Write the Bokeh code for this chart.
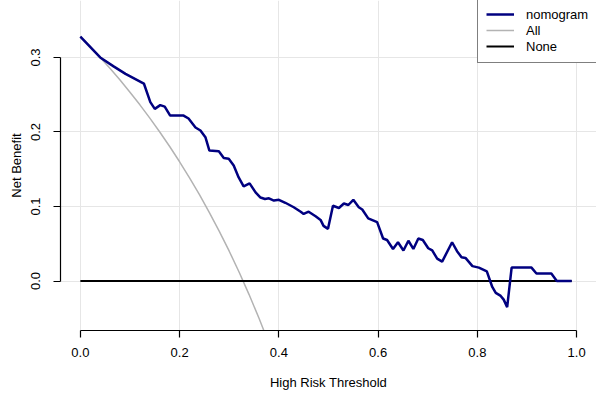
from bokeh.plotting import figure
from bokeh.models import Range1d, FixedTicker, Legend, LegendItem, Title
from bokeh.embed import file_html
from bokeh.resources import INLINE

# Decision curve: net benefit of the nomogram against treat-all / treat-none
threshold = [0.000, 0.040, 0.067, 0.091, 0.128, 0.141, 0.150, 0.161, 0.170, 0.181,
             0.208, 0.218, 0.232, 0.242, 0.252, 0.260, 0.279, 0.289, 0.299, 0.309,
             0.319, 0.329, 0.341, 0.353, 0.363, 0.372, 0.380, 0.390, 0.400, 0.413,
             0.430, 0.444, 0.450, 0.460, 0.474, 0.484, 0.490, 0.499, 0.509, 0.521,
             0.531, 0.540, 0.550, 0.561, 0.568, 0.580, 0.598, 0.610, 0.618, 0.630,
             0.640, 0.651, 0.661, 0.671, 0.681, 0.690, 0.701, 0.709, 0.719, 0.729,
             0.749, 0.759, 0.768, 0.776, 0.790, 0.803, 0.819, 0.830, 0.837, 0.847,
             0.853, 0.860, 0.869, 0.909, 0.919, 0.949, 0.960, 0.990]
nomogram = [0.328, 0.300, 0.288, 0.278, 0.265, 0.240, 0.231, 0.236, 0.234, 0.222,
            0.222, 0.218, 0.206, 0.202, 0.193, 0.175, 0.174, 0.165, 0.164, 0.155,
            0.139, 0.127, 0.131, 0.119, 0.112, 0.110, 0.111, 0.108, 0.109, 0.105,
            0.099, 0.093, 0.090, 0.093, 0.087, 0.082, 0.074, 0.070, 0.101, 0.098,
            0.104, 0.102, 0.109, 0.099, 0.096, 0.084, 0.079, 0.057, 0.055, 0.043,
            0.052, 0.041, 0.054, 0.043, 0.057, 0.055, 0.044, 0.041, 0.030, 0.026,
            0.052, 0.040, 0.032, 0.031, 0.020, 0.018, 0.013, -0.008, -0.016, -0.020,
            -0.025, -0.035, 0.018, 0.018, 0.010, 0.010, 0.000, 0.000]

all_threshold = [0.00, 0.02, 0.04, 0.06, 0.08, 0.10, 0.12, 0.14, 0.16, 0.18,
                 0.20, 0.22, 0.24, 0.26, 0.28, 0.30, 0.32, 0.34, 0.36, 0.38]
all_benefit = [0.3280, 0.3143, 0.3000, 0.2851, 0.2696, 0.2533, 0.2364, 0.2186, 0.2000, 0.1805,
               0.1600, 0.1385, 0.1158, 0.0919, 0.0667, 0.0400, 0.0118, -0.0182, -0.0500, -0.0839]

none_threshold = [0.0, 0.99]
none_benefit = [0.0, 0.0]

x_ticks = [0.0, 0.2, 0.4, 0.6, 0.8, 1.0]
x_tick_labels = ["0.0", "0.2", "0.4", "0.6", "0.8", "1.0"]
y_ticks = [0.0, 0.1, 0.2, 0.3]
y_tick_labels = ["0.0", "0.1", "0.2", "0.3"]

FONT = "Liberation Sans"

p = figure(width=596, height=393,
           x_range=Range1d(-0.04, 1.04), y_range=Range1d(-0.0664, 0.3764),
           output_backend="svg", toolbar_location=None,
           min_border_left=60, min_border_right=0, min_border_top=0, min_border_bottom=63)
p.outline_line_color = None
p.background_fill_color = "white"
p.border_fill_color = "white"

for g, ticks in ((p.xgrid, x_ticks), (p.ygrid, y_ticks)):
    g.ticker = FixedTicker(ticks=ticks)
    g.grid_line_color = "#e6e6e6"
    g.grid_line_width = 1

for ax, ticks, labels, bounds in ((p.xaxis, x_ticks, x_tick_labels, (0.0, 1.0)),
                                  (p.yaxis, y_ticks, y_tick_labels, (0.0, 0.3))):
    ax.ticker = FixedTicker(ticks=ticks)
    ax.major_label_overrides = {t: l for t, l in zip(ticks, labels)}
    ax.bounds = bounds
    ax.minor_tick_line_color = None
    ax.major_tick_out = 7
    ax.major_tick_in = 0
    ax.axis_line_color = "black"
    ax.axis_line_width = 1.2
    ax.major_tick_line_color = "black"
    ax.major_tick_line_width = 1.2
    ax.major_label_text_font = FONT
    ax.major_label_text_font_size = "13px"
    ax.major_label_text_color = "black"
    ax.axis_label_text_font = FONT
    ax.axis_label_text_font_size = "13px"
    ax.axis_label_text_font_style = "normal"
    ax.axis_label_text_color = "black"

p.xaxis.axis_label = "High Risk Threshold"
p.xaxis.major_label_standoff = 10
p.xaxis.axis_label_standoff = 15
p.yaxis.major_label_orientation = "vertical"
p.yaxis.major_label_standoff = 13

# y-axis title as a side title in the left margin
p.add_layout(Title(text="Net Benefit", align="center", standoff=9, offset=0,
                   text_font=FONT, text_font_size="13px", text_font_style="normal",
                   text_color="black"), "left")

r_all = p.line(all_threshold, all_benefit, line_color="#b3b3b3", line_width=1.5)
r_none = p.line(none_threshold, none_benefit, line_color="black", line_width=2)
r_nom = p.line(threshold, nomogram, line_color="#000080", line_width=2.5)

legend = Legend(items=[LegendItem(label="nomogram", renderers=[r_nom]),
                       LegendItem(label="All", renderers=[r_all]),
                       LegendItem(label="None", renderers=[r_none])],
                location=(417, 267), margin=0, padding=8, spacing=0,
                glyph_width=28, glyph_height=16, label_height=16,
                label_standoff=12, label_width=62,
                label_text_font=FONT, label_text_font_size="13px",
                label_text_color="black", label_text_baseline="middle",
                border_line_color="black", border_line_width=1.2,
                background_fill_color="white", background_fill_alpha=1.0)
p.add_layout(legend, "center")

open("out.html", "w").write(file_html(p, INLINE))
